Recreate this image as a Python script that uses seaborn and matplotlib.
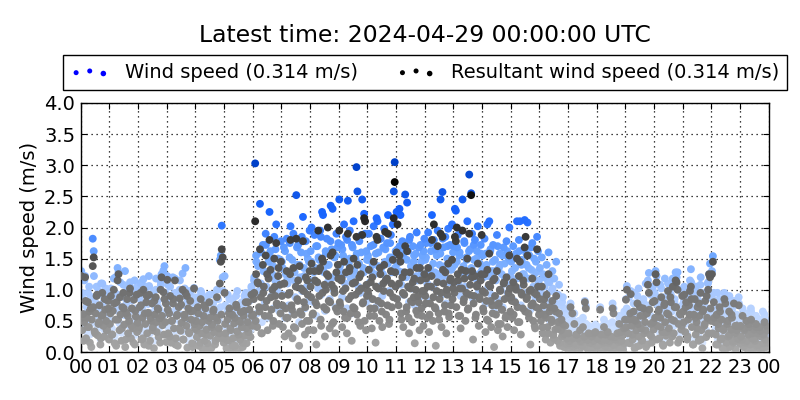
import numpy as np
import pandas as pd
import matplotlib
matplotlib.use("Agg")
import matplotlib.pyplot as plt
import seaborn as sns
from matplotlib.colors import LinearSegmentedColormap
from matplotlib.collections import PathCollection
from matplotlib.legend_handler import HandlerPathCollection

# ---------------- data (m/s), lists per hour of day ----------------
# wind speed, batch A
ws_00 = [1.30, 0.42, 0.85, 0.61, 1.22, 0.33, 0.74, 0.95, 0.52, 0.28, 0.88, 0.66, 1.82, 1.62, 0.47, 0.79, 1.05, 0.38, 0.58, 0.92, 0.21, 0.70, 1.10, 0.55, 0.36, 0.83, 0.64, 0.49, 0.97, 0.30]
ws_01 = [0.55, 1.02, 0.38, 0.81, 1.18, 0.25, 0.67, 0.93, 1.35, 1.28, 0.46, 0.72, 0.31, 0.88, 1.08, 0.59, 0.20, 0.77, 0.99, 0.43, 0.64, 1.12, 0.35, 0.83, 0.51, 0.96, 0.27, 0.70, 1.04, 0.60]
ws_02 = [0.48, 0.86, 1.10, 0.33, 0.69, 1.17, 0.24, 0.58, 0.94, 0.41, 0.77, 1.06, 0.30, 0.63, 0.90, 0.52, 0.18, 0.74, 1.00, 0.44, 0.82, 0.36, 0.68, 1.14, 1.25, 0.57, 1.31, 1.38, 0.62, 0.28]
ws_03 = [1.22, 0.40, 0.78, 1.05, 0.29, 0.64, 0.92, 0.51, 1.18, 0.35, 0.71, 0.22, 0.86, 1.00, 0.46, 0.60, 1.26, 0.33, 0.75, 1.35, 0.55, 0.19, 0.84, 0.42, 0.97, 0.66, 0.27, 0.80, 1.03, 0.50]
ws_04 = [0.62, 0.35, 0.88, 0.20, 0.55, 0.98, 0.41, 0.12, 0.70, 0.30, 0.83, 0.48, 0.25, 0.64, 0.92, 0.38, 0.15, 0.57, 0.78, 0.44, 0.22, 0.68, 1.00, 0.33, 0.51, 1.48, 1.55, 2.03, 1.20, 0.27]
ws_05 = [1.22, 0.40, 0.15, 0.66, 0.28, 0.85, 0.50, 0.12, 0.73, 0.34, 0.58, 0.20, 0.90, 0.45, 0.08, 0.62, 0.30, 0.78, 0.52, 0.18, 0.70, 0.38, 0.95, 0.25, 0.60, 0.44, 0.82, 0.35, 1.05, 0.55]
ws_06 = [0.85, 1.20, 3.03, 1.55, 0.62, 1.38, 0.95, 2.38, 1.10, 0.48, 1.72, 1.30, 0.80, 1.90, 1.05, 0.55, 1.45, 2.25, 1.62, 0.90, 1.25, 0.70, 1.85, 1.15, 2.05, 0.98, 1.50, 0.66, 1.35, 1.78]
ws_07 = [1.45, 0.92, 1.68, 0.55, 1.25, 1.82, 1.10, 0.75, 1.52, 2.02, 1.30, 0.64, 1.90, 1.15, 0.88, 2.52, 1.40, 1.72, 0.48, 1.20, 1.60, 0.98, 2.17, 1.35, 0.70, 1.78, 1.05, 1.50, 0.82, 1.95]
ws_08 = [1.62, 2.00, 1.15, 0.80, 1.88, 1.35, 0.58, 1.70, 1.02, 1.48, 1.95, 0.92, 2.25, 2.20, 1.28, 0.66, 1.58, 1.82, 1.12, 1.40, 0.85, 2.35, 1.65, 2.30, 1.00, 1.52, 0.72, 1.90, 1.22, 1.75]
ws_09 = [2.45, 1.30, 1.72, 0.88, 1.55, 2.05, 1.10, 1.85, 0.70, 2.43, 1.42, 1.95, 1.18, 0.62, 1.68, 2.10, 1.25, 1.50, 2.97, 2.58, 1.05, 1.78, 0.95, 1.60, 2.45, 1.35, 2.22, 1.90, 0.80, 1.48]
ws_10 = [1.55, 1.90, 1.12, 1.70, 0.85, 1.40, 2.02, 1.25, 0.72, 2.15, 2.10, 1.60, 1.05, 1.82, 1.35, 0.90, 1.68, 1.98, 1.45, 1.15, 1.75, 2.20, 0.98, 1.52, 1.88, 1.28, 2.05, 2.58, 3.05, 1.62]
ws_11 = [2.25, 1.65, 1.30, 2.30, 2.20, 1.08, 1.78, 0.92, 1.50, 2.53, 1.20, 2.40, 1.62, 0.80, 1.85, 1.38, 1.02, 1.70, 1.45, 0.75, 1.58, 1.92, 1.15, 1.35, 0.88, 1.72, 1.25, 1.55, 0.95, 1.82]
ws_12 = [1.48, 1.75, 1.10, 1.92, 0.82, 1.35, 1.62, 2.20, 1.05, 1.80, 1.28, 0.70, 1.55, 1.95, 1.18, 1.40, 2.45, 0.92, 2.57, 1.68, 1.22, 1.85, 0.78, 1.50, 1.98, 1.12, 1.72, 1.32, 2.05, 1.60]
ws_13 = [1.70, 2.30, 2.27, 1.45, 1.88, 1.12, 1.60, 0.90, 1.95, 2.45, 1.38, 1.75, 1.05, 1.52, 2.10, 1.25, 2.85, 1.65, 2.55, 1.90, 0.85, 1.48, 1.80, 1.18, 1.62, 2.02, 0.98, 1.42, 1.72, 1.30]
ws_14 = [1.55, 1.20, 1.82, 0.78, 1.40, 2.05, 1.05, 2.10, 1.62, 0.92, 1.30, 1.72, 0.65, 1.48, 1.15, 1.88, 0.85, 1.35, 1.58, 1.00, 1.25, 0.72, 1.68, 1.42, 1.10, 1.78, 0.95, 1.52, 2.00, 1.22]
ws_15 = [1.45, 1.10, 1.70, 0.82, 1.35, 1.58, 2.10, 1.02, 1.80, 2.10, 0.75, 1.48, 1.25, 1.65, 2.12, 0.95, 1.40, 2.08, 1.18, 1.55, 0.68, 1.32, 1.75, 1.05, 1.50, 0.88, 1.28, 1.85, 1.62, 1.15]
ws_16 = [1.35, 0.95, 1.52, 0.70, 1.20, 1.05, 0.58, 1.40, 0.85, 1.60, 1.12, 0.48, 0.98, 1.30, 0.65, 1.18, 0.80, 1.45, 0.55, 0.92, 1.08, 0.42, 0.75, 0.62, 0.88, 0.35, 0.70, 0.50, 0.60, 0.28]
ws_17 = [0.45, 0.30, 0.78, 0.18, 0.52, 0.25, 0.62, 0.12, 0.40, 0.22, 0.35, 0.08, 0.48, 0.28, 0.15, 0.55, 0.20, 0.82, 0.74, 0.32, 0.10, 0.42, 0.26, 0.05, 0.38, 0.16, 0.30, 0.12, 0.44, 0.20]
ws_18 = [0.35, 0.20, 0.12, 0.72, 0.40, 0.28, 0.08, 0.52, 0.18, 0.32, 0.05, 0.45, 0.25, 0.15, 0.38, 0.10, 0.78, 0.70, 0.22, 0.30, 0.06, 0.42, 0.16, 0.55, 0.12, 0.28, 0.35, 0.08, 0.48, 0.60]
ws_19 = [0.85, 1.06, 0.40, 0.65, 0.22, 0.98, 0.55, 0.30, 0.78, 0.12, 0.62, 0.45, 0.90, 0.35, 0.18, 0.70, 0.50, 0.28, 0.82, 0.42, 0.60, 0.15, 0.75, 1.15, 1.27, 0.38, 0.58, 0.25, 0.92, 0.48]
ws_20 = [0.95, 1.30, 1.22, 0.55, 0.80, 0.32, 0.68, 1.02, 0.45, 0.20, 0.88, 0.60, 0.38, 0.75, 1.10, 0.50, 0.25, 0.92, 0.65, 1.18, 0.42, 0.85, 1.28, 1.20, 1.28, 0.58, 0.30, 0.72, 0.48, 1.00]
ws_21 = [0.78, 1.05, 0.45, 0.92, 0.30, 0.65, 0.88, 1.15, 1.33, 0.52, 0.20, 0.72, 0.98, 0.40, 0.60, 0.85, 0.28, 0.70, 1.08, 0.48, 0.15, 0.80, 0.55, 0.95, 0.35, 0.68, 1.12, 1.25, 1.42, 0.62]
ws_22 = [1.30, 1.54, 0.95, 0.60, 0.38, 0.72, 0.20, 0.50, 0.85, 0.30, 0.65, 0.12, 0.45, 0.95, 0.90, 0.25, 0.58, 0.35, 0.78, 0.15, 0.48, 0.68, 0.28, 0.82, 0.40, 0.10, 0.55, 0.32, 0.88, 0.22]
ws_23 = [0.55, 0.30, 0.70, 0.15, 0.45, 0.25, 0.62, 0.10, 0.38, 0.50, 0.20, 0.65, 0.33, 0.08, 0.48, 0.28, 0.58, 0.18, 0.42, 0.12, 0.52, 0.35, 0.05, 0.40, 0.22, 0.60, 0.30, 0.14, 0.45, 0.26]

# wind speed, batch B
wsb_00 = [0.95, 1.15, 0.72, 1.05, 0.88, 1.22, 0.65, 0.98, 1.10, 0.80, 1.02, 0.90]
wsb_01 = [1.00, 0.85, 1.20, 0.75, 1.12, 0.92, 1.30, 0.82, 1.05, 0.70, 1.15, 0.95]
wsb_02 = [0.90, 1.12, 0.78, 1.05, 1.22, 0.85, 0.98, 1.18, 0.72, 1.08, 1.28, 0.95]
wsb_03 = [1.08, 0.85, 1.20, 0.95, 0.72, 1.15, 0.90, 1.02, 0.80, 0.98, 0.68, 0.88]
wsb_04 = [0.82, 0.60, 0.95, 0.70, 0.88, 0.55, 0.78, 0.92, 0.65, 0.85, 0.72, 0.98]
wsb_05 = [0.75, 0.92, 0.62, 0.85, 0.70, 0.98, 0.58, 0.80, 0.90, 0.65, 0.88, 1.02]
wsb_06 = [1.15, 1.45, 0.98, 1.60, 1.30, 1.72, 1.22, 1.52, 1.38, 1.65, 1.10, 1.48]
wsb_07 = [1.35, 1.62, 1.18, 1.75, 1.48, 1.28, 1.68, 1.40, 1.85, 1.22, 1.58, 1.45]
wsb_08 = [1.45, 1.28, 1.70, 1.52, 1.85, 1.32, 1.62, 1.40, 1.78, 1.20, 1.55, 1.68]
wsb_09 = [1.38, 1.65, 1.25, 1.80, 1.50, 1.72, 1.32, 1.58, 1.42, 1.88, 1.28, 1.62]
wsb_10 = [1.48, 1.30, 1.72, 1.58, 1.38, 1.82, 1.25, 1.65, 1.42, 1.75, 1.52, 1.35]
wsb_11 = [1.42, 1.70, 1.28, 1.60, 1.48, 1.80, 1.35, 1.55, 1.22, 1.68, 1.45, 1.62]
wsb_12 = [1.52, 1.30, 1.75, 1.42, 1.65, 1.25, 1.58, 1.82, 1.38, 1.70, 1.48, 1.35]
wsb_13 = [1.40, 1.68, 1.55, 1.28, 1.78, 1.48, 1.62, 1.35, 1.72, 1.50, 1.25, 1.58]
wsb_14 = [1.35, 1.58, 1.22, 1.65, 1.45, 1.30, 1.70, 1.40, 1.55, 1.18, 1.62, 1.48]
wsb_15 = [1.30, 1.52, 1.18, 1.62, 1.40, 1.25, 1.58, 1.35, 1.68, 1.20, 1.45, 1.10]
wsb_16 = [1.05, 1.25, 0.88, 1.15, 0.75, 1.02, 0.65, 0.92, 0.55, 0.80, 0.45, 0.70]
wsb_17 = [0.25, 0.40, 0.15, 0.35, 0.50, 0.22, 0.30, 0.45, 0.18, 0.38, 0.28, 0.12]
wsb_18 = [0.30, 0.18, 0.42, 0.25, 0.35, 0.12, 0.48, 0.22, 0.38, 0.58, 0.28, 0.65]
wsb_19 = [0.70, 0.88, 0.55, 0.95, 0.78, 1.02, 0.65, 0.85, 1.10, 0.72, 0.92, 1.05]
wsb_20 = [0.90, 0.75, 1.08, 0.85, 1.18, 0.68, 0.98, 1.12, 0.80, 1.02, 0.72, 0.95]
wsb_21 = [0.82, 1.00, 0.70, 1.12, 0.90, 1.05, 0.78, 1.20, 0.95, 0.72, 1.10, 0.88]
wsb_22 = [0.85, 0.62, 0.95, 0.72, 0.55, 0.82, 0.68, 0.90, 0.48, 0.75, 0.60, 0.78]
wsb_23 = [0.48, 0.62, 0.35, 0.55, 0.70, 0.42, 0.58, 0.30, 0.52, 0.65, 0.40, 0.50]

# resultant wind speed, batch A
rs_00 = [1.22, 0.35, 0.61, 0.48, 1.20, 0.22, 0.55, 0.80, 0.40, 0.15, 0.70, 0.52, 1.38, 1.52, 0.33, 0.62, 0.90, 0.27, 0.45, 0.75, 0.12, 0.58, 0.95, 0.42, 0.25, 0.68, 0.50, 0.36, 0.82, 0.20]
rs_01 = [0.45, 0.90, 0.28, 0.66, 1.00, 0.14, 0.52, 0.80, 1.15, 1.25, 0.35, 0.60, 0.18, 0.72, 0.95, 0.44, 0.08, 0.63, 0.85, 0.30, 0.50, 1.02, 0.22, 0.70, 0.38, 0.84, 0.12, 0.57, 0.92, 0.47]
rs_02 = [0.36, 0.72, 0.95, 0.20, 0.55, 1.00, 0.12, 0.45, 0.80, 0.30, 0.63, 0.92, 0.18, 0.50, 0.78, 0.40, 0.06, 0.60, 0.88, 0.32, 0.70, 0.24, 0.54, 1.00, 1.20, 0.43, 0.96, 0.85, 0.48, 0.16]
rs_03 = [1.16, 0.30, 0.62, 0.90, 0.15, 0.50, 0.78, 0.38, 1.15, 0.22, 0.58, 0.10, 0.72, 0.86, 0.34, 0.47, 1.00, 0.20, 0.60, 0.95, 0.42, 0.07, 0.70, 0.30, 0.82, 0.52, 0.14, 0.66, 1.02, 0.38]
rs_04 = [0.50, 0.24, 0.72, 0.10, 0.42, 0.85, 0.30, 0.05, 0.58, 0.18, 0.70, 0.36, 0.14, 0.50, 0.80, 0.26, 0.06, 0.44, 0.65, 0.32, 0.12, 0.55, 0.88, 0.22, 0.38, 1.10, 1.45, 1.65, 1.52, 0.15]
rs_05 = [0.95, 0.30, 0.06, 0.52, 0.18, 0.70, 0.38, 0.04, 0.60, 0.22, 0.46, 0.10, 0.76, 0.33, 0.03, 0.50, 0.20, 0.64, 0.40, 0.08, 0.58, 0.26, 0.80, 0.14, 0.48, 0.32, 0.68, 0.24, 0.92, 0.42]
rs_06 = [0.60, 0.95, 2.10, 1.25, 0.40, 1.10, 0.72, 1.65, 0.88, 0.30, 1.40, 1.05, 0.58, 1.55, 0.82, 0.35, 1.18, 1.80, 1.32, 0.68, 1.00, 0.50, 1.50, 0.90, 1.75, 0.75, 1.22, 0.45, 1.08, 1.45]
rs_07 = [0.90, 0.40, 1.10, 0.25, 0.70, 1.30, 0.55, 0.30, 0.95, 1.80, 0.75, 0.22, 1.35, 0.60, 0.38, 1.82, 0.85, 1.15, 0.10, 0.65, 1.02, 0.45, 1.78, 0.80, 0.28, 1.20, 0.50, 0.92, 0.35, 1.30]
rs_08 = [1.05, 1.42, 0.60, 0.35, 1.30, 0.80, 0.12, 1.12, 1.95, 0.90, 1.35, 0.42, 1.50, 1.45, 0.72, 0.25, 1.00, 1.25, 2.00, 0.82, 0.38, 1.55, 1.08, 1.60, 0.48, 0.95, 0.30, 1.28, 0.65, 1.18]
rs_09 = [1.95, 0.75, 1.15, 0.40, 0.98, 1.45, 0.55, 1.28, 0.30, 1.90, 0.85, 1.35, 0.62, 0.18, 1.10, 1.50, 0.70, 0.92, 1.85, 1.40, 0.48, 1.20, 0.42, 1.02, 1.88, 0.80, 2.15, 2.10, 0.35, 0.90]
rs_10 = [0.98, 1.32, 0.58, 1.12, 0.38, 0.85, 1.45, 0.70, 0.15, 1.85, 1.80, 1.02, 0.50, 1.25, 0.78, 0.40, 1.10, 1.40, 1.93, 0.60, 1.18, 1.90, 0.45, 0.95, 1.30, 0.72, 1.48, 2.15, 2.73, 1.05]
rs_11 = [1.60, 2.05, 0.75, 1.55, 1.45, 0.52, 1.20, 0.40, 0.92, 1.70, 0.65, 1.62, 1.05, 0.30, 1.28, 0.82, 0.48, 1.12, 0.88, 0.14, 1.00, 1.35, 0.60, 0.80, 0.35, 1.15, 0.70, 0.98, 0.42, 1.25]
rs_12 = [0.90, 1.18, 0.55, 1.35, 0.32, 0.78, 1.05, 1.80, 0.50, 2.05, 0.72, 0.10, 0.98, 1.70, 0.62, 0.85, 1.90, 0.40, 1.85, 1.10, 0.65, 1.28, 0.30, 0.92, 1.42, 0.56, 1.15, 0.75, 1.48, 1.02]
rs_13 = [1.12, 1.85, 1.78, 2.00, 1.25, 0.58, 1.02, 0.38, 1.32, 1.95, 0.80, 1.18, 0.50, 0.95, 1.50, 0.70, 1.90, 1.08, 2.52, 1.30, 0.20, 0.90, 1.22, 0.60, 1.05, 1.42, 0.42, 0.85, 1.15, 1.88]
rs_14 = [0.98, 0.65, 1.25, 0.32, 0.82, 1.32, 0.50, 1.58, 1.05, 0.40, 0.75, 1.15, 0.08, 0.90, 0.60, 1.30, 0.35, 0.78, 1.00, 0.45, 0.68, 0.25, 1.10, 0.85, 0.55, 1.20, 0.40, 0.95, 1.55, 0.65]
rs_15 = [0.88, 0.55, 1.12, 0.35, 0.80, 1.00, 1.50, 0.48, 1.22, 1.45, 0.28, 0.92, 0.70, 1.08, 1.68, 1.85, 0.85, 1.55, 0.62, 0.98, 0.12, 0.75, 1.18, 0.50, 0.95, 0.38, 0.72, 1.65, 1.05, 0.60]
rs_16 = [0.85, 0.50, 1.05, 0.30, 0.75, 0.60, 0.20, 0.92, 0.40, 1.25, 0.65, 0.15, 0.52, 0.82, 0.28, 0.70, 0.36, 0.90, 0.18, 0.48, 0.62, 0.10, 0.35, 0.25, 0.45, 0.08, 0.30, 0.14, 0.22, 0.05]
rs_17 = [0.30, 0.18, 0.72, 0.10, 0.62, 0.14, 0.45, 0.06, 0.28, 0.12, 0.22, 0.04, 0.35, 0.16, 0.08, 0.40, 0.10, 0.80, 0.70, 0.20, 0.05, 0.30, 0.15, 0.02, 0.25, 0.08, 0.18, 0.06, 0.32, 0.12]
rs_18 = [0.22, 0.12, 0.06, 0.68, 0.28, 0.18, 0.04, 0.40, 0.10, 0.20, 0.02, 0.32, 0.15, 0.08, 0.25, 0.05, 0.70, 0.62, 0.12, 0.20, 0.03, 0.30, 0.09, 0.45, 0.06, 0.18, 0.26, 0.04, 0.38, 0.52]
rs_19 = [0.84, 1.00, 0.30, 0.52, 0.14, 0.93, 0.42, 0.20, 0.65, 0.06, 0.50, 0.35, 0.78, 0.25, 0.10, 0.58, 0.38, 0.18, 0.70, 0.30, 0.48, 0.08, 0.62, 1.08, 0.95, 0.28, 0.45, 0.15, 0.80, 0.36]
rs_20 = [0.82, 1.25, 1.12, 0.42, 0.65, 0.22, 0.55, 0.88, 0.32, 0.10, 0.75, 0.48, 0.26, 0.62, 0.98, 0.38, 0.15, 0.80, 0.52, 1.05, 0.30, 0.72, 1.15, 1.12, 1.00, 0.45, 0.20, 0.60, 0.36, 0.90]
rs_21 = [0.65, 0.92, 0.32, 0.80, 0.20, 0.52, 0.75, 0.98, 1.05, 0.40, 0.12, 0.60, 0.85, 0.28, 0.48, 0.72, 0.18, 0.58, 0.95, 0.35, 0.06, 0.68, 0.42, 0.82, 0.24, 0.55, 1.00, 1.25, 1.20, 0.50]
rs_22 = [1.25, 1.45, 0.80, 0.48, 0.28, 0.60, 0.12, 0.38, 0.72, 0.20, 0.52, 0.06, 0.35, 0.85, 0.78, 0.15, 0.45, 0.25, 0.65, 0.08, 0.36, 0.55, 0.18, 0.78, 0.30, 0.04, 0.42, 0.22, 0.75, 0.14]
rs_23 = [0.42, 0.20, 0.58, 0.08, 0.35, 0.15, 0.50, 0.05, 0.28, 0.40, 0.12, 0.52, 0.22, 0.03, 0.36, 0.18, 0.45, 0.10, 0.30, 0.06, 0.40, 0.25, 0.02, 0.30, 0.14, 0.48, 0.20, 0.08, 0.35, 0.16]

# resultant wind speed, batch B
rsb_00 = [0.55, 0.18, 0.82, 0.40, 0.65, 0.08, 0.72, 0.30, 0.92, 0.48, 0.22, 0.60, 0.85, 0.35, 0.70]
rsb_01 = [0.62, 0.28, 0.78, 0.10, 0.52, 0.88, 0.38, 0.70, 0.20, 0.58, 0.95, 0.42, 0.15, 0.66, 0.32]
rsb_02 = [0.40, 0.75, 0.22, 0.62, 0.90, 0.10, 0.55, 0.35, 0.82, 0.48, 0.68, 0.15, 0.58, 0.28, 0.78]
rsb_03 = [0.68, 0.25, 0.50, 0.85, 0.12, 0.60, 0.38, 0.76, 0.20, 0.55, 0.90, 0.32, 0.65, 0.08, 0.45]
rsb_04 = [0.35, 0.62, 0.15, 0.48, 0.75, 0.28, 0.05, 0.55, 0.40, 0.68, 0.18, 0.50, 0.30, 0.60, 0.22]
rsb_05 = [0.45, 0.20, 0.62, 0.35, 0.10, 0.55, 0.72, 0.28, 0.48, 0.15, 0.66, 0.38, 0.80, 0.25, 0.58]
rsb_06 = [0.85, 0.50, 1.12, 0.65, 0.30, 0.95, 0.72, 1.25, 0.58, 0.88, 0.42, 1.05, 0.78, 1.35, 0.62]
rsb_07 = [0.75, 1.10, 0.55, 0.92, 1.25, 0.68, 0.40, 1.05, 0.82, 1.38, 0.60, 0.98, 0.72, 1.15, 0.50]
rsb_08 = [0.88, 0.62, 1.15, 0.75, 1.30, 0.52, 0.95, 1.08, 0.68, 1.22, 0.80, 0.45, 1.02, 0.70, 1.40]
rsb_09 = [0.80, 1.18, 0.65, 1.02, 0.55, 1.30, 0.90, 0.72, 1.12, 0.60, 0.98, 1.25, 0.78, 0.50, 1.08]
rsb_10 = [0.92, 0.70, 1.20, 0.58, 1.05, 0.82, 1.35, 0.65, 0.98, 1.15, 0.75, 0.52, 1.10, 0.88, 1.28]
rsb_11 = [0.85, 1.10, 0.62, 0.95, 1.28, 0.72, 0.55, 1.02, 0.80, 1.18, 0.66, 0.90, 1.35, 0.58, 0.98]
rsb_12 = [0.78, 1.05, 0.60, 1.22, 0.88, 0.70, 1.12, 0.52, 0.95, 1.32, 0.75, 1.00, 0.62, 1.18, 0.85]
rsb_13 = [0.95, 0.72, 1.15, 0.58, 1.02, 0.85, 1.30, 0.68, 0.92, 1.20, 0.78, 0.55, 1.08, 0.88, 1.25]
rsb_14 = [0.70, 0.95, 0.52, 1.08, 0.82, 0.62, 1.18, 0.75, 0.45, 0.98, 0.68, 1.12, 0.58, 0.88, 1.02]
rsb_15 = [0.82, 0.60, 1.05, 0.72, 0.48, 0.95, 1.15, 0.65, 0.88, 0.55, 1.00, 0.78, 0.42, 0.92, 0.70]
rsb_16 = [0.62, 0.40, 0.85, 0.55, 0.30, 0.72, 0.48, 0.22, 0.65, 0.38, 0.15, 0.52, 0.28, 0.42, 0.12]
rsb_17 = [0.15, 0.05, 0.22, 0.10, 0.28, 0.03, 0.18, 0.12, 0.25, 0.08, 0.20, 0.02, 0.14, 0.30, 0.06]
rsb_18 = [0.10, 0.20, 0.04, 0.15, 0.28, 0.08, 0.18, 0.02, 0.12, 0.24, 0.06, 0.16, 0.32, 0.09, 0.14]
rsb_19 = [0.40, 0.15, 0.62, 0.28, 0.52, 0.08, 0.45, 0.72, 0.20, 0.58, 0.35, 0.12, 0.68, 0.25, 0.48]
rsb_20 = [0.55, 0.20, 0.68, 0.40, 0.12, 0.78, 0.32, 0.60, 0.88, 0.25, 0.50, 0.72, 0.15, 0.62, 0.42]
rsb_21 = [0.48, 0.72, 0.25, 0.60, 0.85, 0.12, 0.55, 0.38, 0.78, 0.20, 0.65, 0.45, 0.90, 0.30, 0.70]
rsb_22 = [0.30, 0.55, 0.12, 0.45, 0.65, 0.22, 0.38, 0.05, 0.50, 0.28, 0.60, 0.15, 0.42, 0.35, 0.20]
rsb_23 = [0.25, 0.10, 0.38, 0.18, 0.45, 0.05, 0.30, 0.22, 0.40, 0.12, 0.34, 0.08, 0.28, 0.42, 0.15]

hour_labels = ["%02d" % h for h in range(24)] + ["00"]
title_text = "Latest time: 2024-04-29 00:00:00 UTC"
label_ws = "Wind speed (0.314 m/s)"
label_rs = "Resultant wind speed (0.314 m/s)"

wind_a = [ws_00, ws_01, ws_02, ws_03, ws_04, ws_05, ws_06, ws_07, ws_08, ws_09, ws_10, ws_11,
          ws_12, ws_13, ws_14, ws_15, ws_16, ws_17, ws_18, ws_19, ws_20, ws_21, ws_22, ws_23]
wind_b = [wsb_00, wsb_01, wsb_02, wsb_03, wsb_04, wsb_05, wsb_06, wsb_07, wsb_08, wsb_09, wsb_10, wsb_11,
          wsb_12, wsb_13, wsb_14, wsb_15, wsb_16, wsb_17, wsb_18, wsb_19, wsb_20, wsb_21, wsb_22, wsb_23]
res_a = [rs_00, rs_01, rs_02, rs_03, rs_04, rs_05, rs_06, rs_07, rs_08, rs_09, rs_10, rs_11,
         rs_12, rs_13, rs_14, rs_15, rs_16, rs_17, rs_18, rs_19, rs_20, rs_21, rs_22, rs_23]
res_b = [rsb_00, rsb_01, rsb_02, rsb_03, rsb_04, rsb_05, rsb_06, rsb_07, rsb_08, rsb_09, rsb_10, rsb_11,
         rsb_12, rsb_13, rsb_14, rsb_15, rsb_16, rsb_17, rsb_18, rsb_19, rsb_20, rsb_21, rsb_22, rsb_23]


def to_rows(hours):
    rows = []
    for h, vals in enumerate(hours):
        n = len(vals)
        for i, v in enumerate(vals):
            rows.append((h + (i + 0.5) / n, v))
    return rows


df_ws = pd.DataFrame(to_rows(wind_a) + to_rows(wind_b), columns=["hour", "speed"])
df_ws = df_ws.sort_values("speed").reset_index(drop=True)
df_rs = pd.DataFrame(to_rows(res_a) + to_rows(res_b), columns=["hour", "speed"])
df_rs = df_rs.sort_values("speed").reset_index(drop=True)

blue_cmap = LinearSegmentedColormap.from_list(
    "wsblue", [(0.0, "#e2edff"), (0.33, "#a4c6ff"), (0.52, "#6aa4ff"),
               (0.72, "#1a66ff"), (1.0, "#0040c8")])
grey_cmap = LinearSegmentedColormap.from_list(
    "rsgrey", [(0.0, "#aaaaaa"), (1.0, "#000000")])

fig = plt.figure(figsize=(8, 4), dpi=100)
ax = fig.add_axes([0.101, 0.12, 0.86, 0.6225])

sns.scatterplot(data=df_ws, x="hour", y="speed", hue="speed", palette=blue_cmap,
                hue_norm=(0, 3.05), s=32, linewidth=0, legend=False, ax=ax, zorder=2)
sns.scatterplot(data=df_rs, x="hour", y="speed", hue="speed", palette=grey_cmap,
                hue_norm=(0, 2.8), s=32, linewidth=0, legend=False, ax=ax, zorder=3)

ax.set_xlim(0, 24)
ax.set_ylim(0, 4.0)
ax.set_xticks(range(25))
ax.set_xticklabels(hour_labels)
ax.set_yticks(np.arange(0, 4.01, 0.5))
ax.set_yticklabels(["%.1f" % v for v in np.arange(0, 4.01, 0.5)])
ax.tick_params(direction="in", top=True, right=True, length=4, labelsize=14, pad=4)
ax.grid(True, linestyle=(0, (1, 3)), color="black", linewidth=0.9)
ax.set_axisbelow(True)
for sp in ax.spines.values():
    sp.set_linewidth(1.0)
    sp.set_color("black")
ax.set_xlabel("")
ax.set_ylabel("Wind speed (m/s)", fontsize=14, labelpad=4)

# legend proxies
p1 = ax.scatter([], [], s=14, color="#0000ff", linewidth=0)
p2 = ax.scatter([], [], s=14, color="#000000", linewidth=0)
leg = fig.legend([p1, p2], [label_ws, label_rs], loc="upper center",
                 bbox_to_anchor=(0.531, 0.8625), ncol=2,
                 scatterpoints=3, scatteryoffsets=[0.375, 0.5, 0.3125], fontsize=14,
                 frameon=True, fancybox=False, edgecolor="black", framealpha=1,
                 borderaxespad=0, handletextpad=0.8, columnspacing=2.0,
                 handler_map={PathCollection: HandlerPathCollection(sizes=[13, 13, 16])})
leg.get_frame().set_linewidth(1.0)

fig.text(0.531, 0.912, title_text, ha="center", va="center", fontsize=16.9)

fig.savefig("out.png", dpi=100)
